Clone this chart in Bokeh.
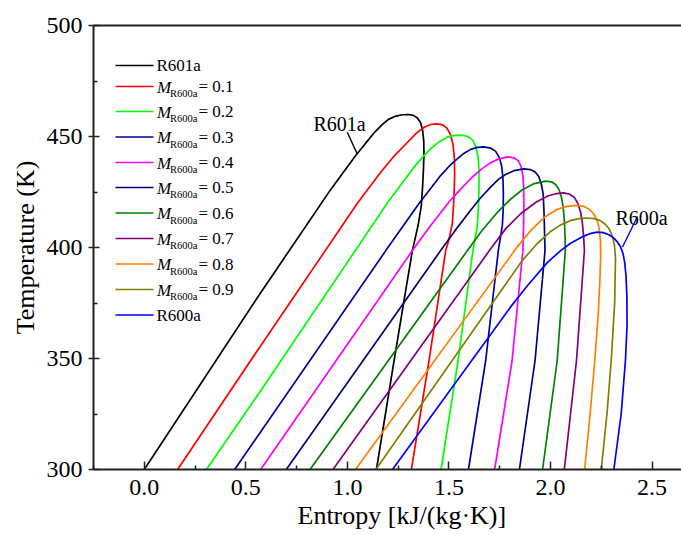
from bokeh.plotting import figure
from bokeh.models import Range1d, LinearAxis, FixedTicker, Label, BasicTickFormatter, Title
from bokeh.embed import file_html
from bokeh.resources import INLINE

FONT = "Liberation Serif"

# ---------------- data ----------------
x_ticks = [0.0, 0.5, 1.0, 1.5, 2.0, 2.5]
x_tick_labels = ["0.0", "0.5", "1.0", "1.5", "2.0", "2.5"]
x_minor = [-0.25, 0.25, 0.75, 1.25, 1.75, 2.25]
y_ticks = [300, 350, 400, 450, 500]
y_tick_labels = ["300", "350", "400", "450", "500"]
y_minor = [325, 375, 425, 475]

s_r601a = [0.000, 0.558, 0.920, 1.041, 1.090, 1.130, 1.170, 1.200, 1.235, 1.270, 1.300, 1.325, 1.345, 1.360, 1.370, 1.376, 1.377, 1.374, 1.370, 1.364, 1.348, 1.320, 1.287, 1.230, 1.143]
T_r601a = [300.0, 377.6, 426.4, 441.4, 447.0, 451.5, 455.2, 457.6, 459.1, 459.8, 459.9, 459.5, 458.3, 456.3, 453.0, 448.0, 442.0, 434.0, 427.0, 418.9, 409.9, 398.6, 380.6, 349.1, 300.0]

s_m01 = [0.164, 0.574, 1.050, 1.164, 1.230, 1.296, 1.340, 1.380, 1.410, 1.440, 1.470, 1.490, 1.507, 1.520, 1.527, 1.528, 1.525, 1.517, 1.500, 1.484, 1.402, 1.315]
T_m01 = [300.0, 355.9, 420.0, 433.9, 441.2, 447.4, 451.5, 454.3, 455.4, 455.7, 455.2, 453.8, 451.0, 446.5, 440.0, 433.0, 423.0, 411.0, 403.5, 398.6, 349.1, 300.0]

s_m02 = [0.306, 0.574, 1.200, 1.328, 1.370, 1.410, 1.450, 1.492, 1.525, 1.558, 1.590, 1.615, 1.632, 1.643, 1.648, 1.648, 1.645, 1.640, 1.618, 1.545, 1.461]
T_m02 = [300.0, 335.6, 420.5, 436.2, 440.7, 444.5, 447.5, 449.7, 450.5, 450.6, 450.1, 448.6, 445.5, 441.0, 435.0, 426.6, 418.0, 409.9, 398.6, 349.1, 300.0]

s_m03 = [0.445, 1.189, 1.350, 1.459, 1.500, 1.542, 1.575, 1.607, 1.640, 1.672, 1.705, 1.730, 1.748, 1.760, 1.766, 1.768, 1.767, 1.763, 1.743, 1.681, 1.596]
T_m03 = [300.0, 398.6, 419.5, 432.4, 436.5, 440.0, 442.5, 444.2, 445.1, 445.3, 444.8, 443.3, 440.5, 436.5, 431.0, 424.0, 417.0, 409.9, 398.6, 349.1, 300.0]

s_m04 = [0.573, 1.320, 1.410, 1.500, 1.560, 1.610, 1.660, 1.700, 1.740, 1.790, 1.820, 1.840, 1.855, 1.864, 1.868, 1.869, 1.867, 1.864, 1.811, 1.725]
T_m04 = [300.0, 398.6, 409.9, 420.5, 426.5, 431.3, 435.3, 437.9, 439.7, 440.8, 440.4, 439.2, 436.5, 432.5, 427.0, 418.0, 408.0, 398.6, 349.1, 300.0]

s_m05 = [0.699, 1.459, 1.530, 1.600, 1.655, 1.705, 1.745, 1.779, 1.820, 1.869, 1.900, 1.925, 1.942, 1.955, 1.964, 1.968, 1.971, 1.973, 1.924, 1.847]
T_m05 = [300.0, 398.6, 407.6, 416.0, 422.3, 427.2, 430.8, 432.9, 434.6, 435.4, 435.1, 434.0, 432.0, 428.5, 424.0, 416.0, 406.0, 398.6, 349.1, 300.0]

s_m06 = [0.816, 1.591, 1.660, 1.738, 1.804, 1.860, 1.920, 1.976, 2.005, 2.025, 2.041, 2.053, 2.062, 2.069, 2.072, 2.073, 2.033, 1.961]
T_m06 = [300.0, 398.6, 407.3, 415.8, 421.8, 425.9, 428.8, 429.9, 429.6, 428.4, 426.2, 423.0, 418.5, 411.0, 404.0, 398.6, 349.1, 300.0]

s_m07 = [0.929, 1.710, 1.780, 1.853, 1.930, 1.990, 2.030, 2.066, 2.095, 2.118, 2.135, 2.148, 2.157, 2.163, 2.167, 2.128, 2.068]
T_m07 = [300.0, 400.0, 408.5, 415.2, 420.5, 423.3, 424.3, 424.6, 424.0, 422.5, 419.8, 416.0, 411.0, 405.0, 398.6, 349.1, 300.0]

s_m08 = [1.040, 1.830, 1.902, 1.970, 2.033, 2.080, 2.132, 2.165, 2.190, 2.213, 2.228, 2.240, 2.246, 2.247, 2.243, 2.235, 2.218, 2.195, 2.168]
T_m08 = [300.0, 399.5, 407.6, 413.6, 417.2, 418.5, 419.0, 418.5, 417.2, 415.2, 412.5, 408.5, 403.0, 396.0, 385.0, 370.0, 349.1, 325.0, 300.0]

s_m09 = [1.140, 1.860, 1.935, 2.000, 2.050, 2.100, 2.140, 2.180, 2.215, 2.245, 2.270, 2.290, 2.305, 2.315, 2.320, 2.316, 2.299, 2.278, 2.250]
T_m09 = [300.0, 394.0, 401.8, 407.2, 410.2, 412.2, 413.0, 413.3, 413.0, 412.1, 410.5, 408.2, 405.0, 401.0, 395.0, 375.0, 349.1, 325.0, 300.0]

s_r600a = [1.222, 1.800, 1.886, 1.984, 2.050, 2.099, 2.160, 2.200, 2.230, 2.260, 2.290, 2.312, 2.330, 2.345, 2.357, 2.365, 2.372, 2.376, 2.377, 2.369, 2.348, 2.312]
T_r600a = [300.0, 372.8, 382.8, 393.2, 398.6, 401.9, 405.0, 406.4, 406.9, 406.7, 405.6, 404.2, 402.4, 400.3, 397.3, 393.5, 387.0, 378.0, 365.0, 349.1, 325.0, 300.0]

series_s = [s_r601a, s_m01, s_m02, s_m03, s_m04, s_m05, s_m06, s_m07, s_m08, s_m09, s_r600a]
series_T = [T_r601a, T_m01, T_m02, T_m03, T_m04, T_m05, T_m06, T_m07, T_m08, T_m09, T_r600a]
series_frac = [None, "0.1", "0.2", "0.3", "0.4", "0.5", "0.6", "0.7", "0.8", "0.9", None]
series_plain = ["R601a", None, None, None, None, None, None, None, None, None, "R600a"]
series_colors = ["#000000", "#FF0000", "#00FF00", "#0000A0", "#FF00FF", "#000080",
                 "#008000", "#800080", "#FF8000", "#808000", "#0000FF"]

# ---------------- layout ----------------
W, H = 681, 535
FL, FR, FT, FB = 93, 681, 25, 469
X0, X1 = -0.25, 2.645
Y0, Y1 = 300, 500


def dx(px):
    return X0 + (px - FL) * (X1 - X0) / (FR - FL)


def dy(py):
    return Y1 - (py - FT) * (Y1 - Y0) / (FB - FT)


p = figure(width=W, height=H, x_range=Range1d(X0, X1), y_range=Range1d(Y0, Y1),
           output_backend="svg", toolbar_location=None,
           min_border_left=FL, min_border_right=W - FR, min_border_top=FT,
           min_border_bottom=H - FB)
p.outline_line_color = None
p.xgrid.visible = False
p.ygrid.visible = False
p.background_fill_color = "white"
p.border_fill_color = "white"

xa = p.xaxis[0]
xa.ticker = FixedTicker(ticks=x_ticks, minor_ticks=x_minor)
xa.formatter = BasicTickFormatter(precision=1)
xa.major_label_overrides = {t: l for t, l in zip(x_ticks, x_tick_labels)}
xa.axis_line_width = 2
xa.axis_line_color = "#222222"
xa.major_tick_in = 8
xa.major_tick_out = 0
xa.minor_tick_in = 4
xa.minor_tick_out = 0
xa.major_tick_line_width = 1.5
xa.minor_tick_line_width = 1.5
xa.major_tick_line_color = "#222222"
xa.minor_tick_line_color = "#222222"
xa.major_label_text_font = FONT
xa.major_label_text_font_size = "24px"
xa.major_label_text_color = "black"
xa.major_label_standoff = 10

ya = p.yaxis[0]
ya.ticker = FixedTicker(ticks=y_ticks, minor_ticks=y_minor)
ya.major_label_overrides = {t: l for t, l in zip(y_ticks, y_tick_labels)}
ya.axis_line_width = 2
ya.axis_line_color = "#222222"
ya.major_tick_in = 6
ya.major_tick_out = 5
ya.minor_tick_in = 4
ya.minor_tick_out = 0
ya.major_tick_line_width = 1.5
ya.minor_tick_line_width = 1.5
ya.major_tick_line_color = "#222222"
ya.minor_tick_line_color = "#222222"
ya.major_label_text_font = FONT
ya.major_label_text_font_size = "24px"
ya.major_label_text_color = "black"
ya.major_label_standoff = 6
ya.axis_label = "Temperature (K)"
ya.axis_label_text_font = FONT
ya.axis_label_text_font_size = "26px"
ya.axis_label_text_font_style = "normal"
ya.axis_label_text_color = "black"
ya.axis_label_standoff = 4

top = LinearAxis(ticker=FixedTicker(ticks=[]), major_label_text_font_size="0px",
                 axis_line_width=2, axis_line_color="#222222",
                 major_tick_in=0, major_tick_out=0, minor_tick_in=0, minor_tick_out=0,
                 major_label_standoff=0)
p.add_layout(top, "above")

# x axis title, placed like the original (whose frame extends beyond the crop)
xtitle = Title(text="Entropy [kJ/(kg·K)]", align="left", offset=297 - FL, standoff=3,
               text_font=FONT, text_font_size="26px", text_font_style="normal",
               text_color="black")
p.add_layout(xtitle, "below")

# ---------------- curves ----------------
for s, T, c in zip(series_s, series_T, series_colors):
    p.line(s, T, line_color=c, line_width=1.7)

# ---------------- legend (hand built for subscripts) ----------------
leg_rows_px = [65, 86, 111, 136.5, 162, 187, 212.5, 238, 263.5, 289, 314.5]
LX0, LX1, TX = 115, 153, 156
for row, c, frac, plain in zip(leg_rows_px, series_colors, series_frac, series_plain):
    p.line([dx(LX0), dx(LX1)], [dy(row), dy(row)], line_color=c, line_width=1.6)
    if plain is not None:
        p.add_layout(Label(x=dx(TX), y=dy(row), text=plain, text_font=FONT, text_font_size="17px",
                           text_baseline="middle", text_align="left", text_color="black"))
    else:
        p.add_layout(Label(x=dx(TX + 0.5), y=dy(row + 0.5), text="M", text_font=FONT,
                           text_font_size="17px", text_font_style="italic",
                           text_baseline="middle", text_align="left", text_color="black"))
        p.add_layout(Label(x=dx(TX + 13.5), y=dy(row + 7), text="R600a", text_font=FONT,
                           text_font_size="10.5px", text_baseline="middle", text_align="left",
                           text_color="black"))
        p.add_layout(Label(x=dx(TX + 42), y=dy(row), text="= " + frac, text_font=FONT,
                           text_font_size="17px", text_baseline="middle", text_align="left",
                           text_color="black"))

# ---------------- curve annotations ----------------
p.add_layout(Label(x=dx(313), y=dy(123), text="R601a", text_font=FONT, text_font_size="20px",
                   text_baseline="alphabetic", text_align="left", text_color="black"))
p.line([dx(346.7), dx(356.7)], [dy(131.7), dy(153.3)], line_color="black", line_width=1.4)
p.add_layout(Label(x=dx(615), y=dy(217), text="R600a", text_font=FONT, text_font_size="20px",
                   text_baseline="alphabetic", text_align="left", text_color="black"))
p.line([dx(637), dx(622)], [dy(216), dy(246.5)], line_color="#0000FF", line_width=1.4)

open("out.html", "w").write(file_html(p, INLINE))
